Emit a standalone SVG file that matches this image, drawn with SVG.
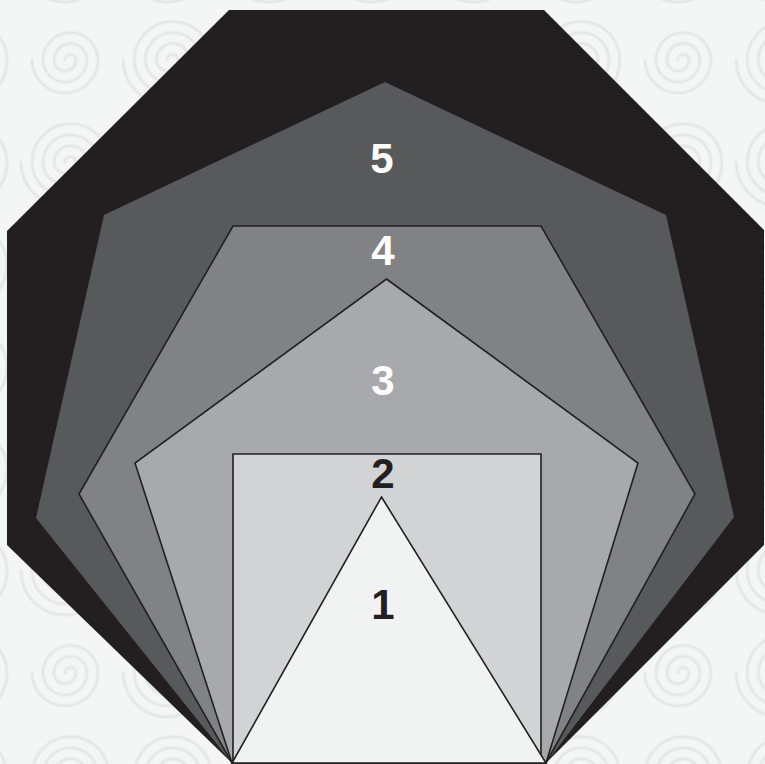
<svg xmlns="http://www.w3.org/2000/svg" width="765" height="764" viewBox="0 0 765 764">
<style>
.sp{fill:none;stroke:#e6e7e7;stroke-width:3;stroke-linecap:round}
.ln{stroke:#231f20;stroke-width:1.6;stroke-linejoin:miter}
.lbl{font-family:"Liberation Sans",Arial,sans-serif;font-weight:bold;font-size:42px;text-anchor:middle}
.w{fill:#ffffff}
.k{fill:#231f20}
</style>
<defs>
<path id="small" class="sp" d="M0 0 A5.5 5.5 0 0 1 11 0 A11 11 0 0 1 -11 0 A16.5 16.5 0 0 1 22 0 A22 22 0 0 1 -22 0 A27.5 27.5 0 0 1 33 0 A33 33 0 0 1 -33 0"/>
<path id="big" class="sp" d="M0 0 A5.5 5.5 0 0 1 11 0 A11 11 0 0 1 -11 0 A16.5 16.5 0 0 1 22 0 A22 22 0 0 1 -22 0 A27.5 27.5 0 0 1 33 0 A33 33 0 0 1 -33 0 A38.5 38.5 0 0 1 44 0 A44 44 0 0 1 -44 0"/>
<pattern id="bg" patternUnits="userSpaceOnUse" x="-37" y="-42" width="204.3" height="204.3">
<rect width="204.3" height="204.3" fill="#f4f5f5"/>
<use href="#small" x="102" y="102"/>
<use href="#big" x="0" y="102"/>
<use href="#big" x="204.3" y="102"/>
<use href="#big" x="102" y="0"/>
<use href="#big" x="102" y="204.3"/>
<use href="#big" x="0" y="0"/>
<use href="#big" x="204.3" y="0"/>
<use href="#big" x="0" y="204.3"/>
<use href="#big" x="204.3" y="204.3"/>
</pattern>
</defs>
<rect width="765" height="764" fill="url(#bg)"/>
<g id="octagon"><polygon points="229,10 544,10 764,230 764,545 546,763 232,763 7,545 7,231" fill="#231f20"/></g>
<g id="heptagon"><polygon points="385,82 666,215 734,517 546,763 232,763 36,518 104,215" fill="#58595b"/></g>
<g id="hexagon"><polygon class="ln" points="233,226 541,226 695,494 546,763 232,763 79,494" fill="#808285"/></g>
<g id="pentagon"><polygon class="ln" points="386.5,279 638,463 546,763 232,763 135,463" fill="#a7a9ac"/></g>
<g id="square"><polygon class="ln" points="233,454 541,454 541,763 233,763" fill="#d1d3d4"/></g>
<g id="triangle"><polygon class="ln" points="381.5,497 546,763 232,763" fill="#f1f2f2"/></g>
<g id="labels">
<text class="lbl w" x="382" y="173">5</text>
<text class="lbl w" x="383" y="265">4</text>
<text class="lbl w" x="383" y="395">3</text>
<text class="lbl k" x="383" y="488">2</text>
<text class="lbl k" x="383" y="619">1</text>
</g>
</svg>
